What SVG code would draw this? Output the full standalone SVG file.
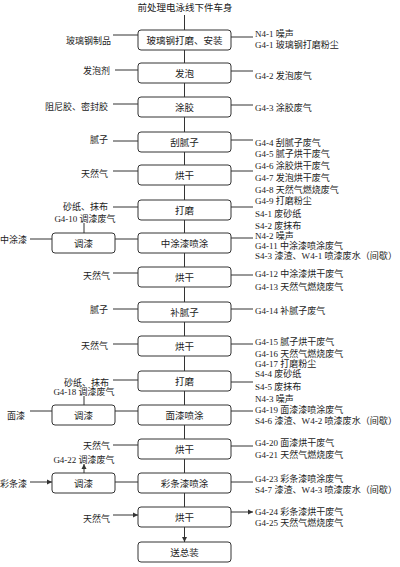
<svg xmlns="http://www.w3.org/2000/svg" width="400" height="567" viewBox="0 0 400 567">
<style>
text{font-family:"Liberation Serif","Noto Sans CJK SC",serif;fill:#222;font-size:9px}
.b{fill:#fff;stroke:#333;stroke-width:1}
.c{text-anchor:middle;font-size:9.5px}
.r{text-anchor:end}
.l{fill:none;stroke:#333;stroke-width:1;marker-end:url(#a)}
</style>
<defs><marker id="a" markerWidth="6" markerHeight="6" refX="5" refY="3" orient="auto" markerUnits="userSpaceOnUse"><path d="M0,0.5L5,3L0,5.5Z" fill="#333"/></marker></defs>
<rect width="400" height="567" fill="#fff"/>
<text x="185" y="11" class="c">前处理电泳线下件车身</text>
<g id="n1"><rect class="b" x="138" y="30" width="93" height="20" rx="3"/><text x="184.5" y="43.5" class="c">玻璃钢打磨、安装</text></g>
<g id="n2"><rect class="b" x="138" y="63" width="93" height="20" rx="3"/><text x="184.5" y="76.5" class="c">发泡</text></g>
<g id="n3"><rect class="b" x="138" y="97" width="93" height="20" rx="3"/><text x="184.5" y="110.5" class="c">涂胶</text></g>
<g id="n4"><rect class="b" x="138" y="132" width="93" height="20" rx="3"/><text x="184.5" y="145.5" class="c">刮腻子</text></g>
<g id="n5"><rect class="b" x="138" y="165" width="93" height="20" rx="3"/><text x="184.5" y="178.5" class="c">烘干</text></g>
<g id="n6"><rect class="b" x="138" y="200" width="93" height="20" rx="3"/><text x="184.5" y="213.5" class="c">打磨</text></g>
<g id="n7"><rect class="b" x="138" y="233" width="93" height="20" rx="3"/><text x="184.5" y="246.5" class="c">中涂漆喷涂</text></g>
<g id="n8"><rect class="b" x="138" y="267" width="93" height="20" rx="3"/><text x="184.5" y="280.5" class="c">烘干</text></g>
<g id="n9"><rect class="b" x="138" y="302" width="93" height="20" rx="3"/><text x="184.5" y="315.5" class="c">补腻子</text></g>
<g id="n10"><rect class="b" x="138" y="336" width="93" height="20" rx="3"/><text x="184.5" y="349.5" class="c">烘干</text></g>
<g id="n11"><rect class="b" x="138" y="371" width="93" height="20" rx="3"/><text x="184.5" y="384.5" class="c">打磨</text></g>
<g id="n12"><rect class="b" x="138" y="405" width="93" height="20" rx="3"/><text x="184.5" y="418.5" class="c">面漆喷涂</text></g>
<g id="n13"><rect class="b" x="138" y="439" width="93" height="20" rx="3"/><text x="184.5" y="452.5" class="c">烘干</text></g>
<g id="n14"><rect class="b" x="138" y="473" width="93" height="20" rx="3"/><text x="184.5" y="486.5" class="c">彩条漆喷涂</text></g>
<g id="n15"><rect class="b" x="138" y="507" width="93" height="20" rx="3"/><text x="184.5" y="520.5" class="c">烘干</text></g>
<g id="n16"><rect class="b" x="138" y="542" width="93" height="20" rx="3"/><text x="184.5" y="555.5" class="c">送总装</text></g>
<g id="t1"><rect class="b" x="52" y="233" width="63" height="20" rx="3"/><text x="83.5" y="246.5" class="c">调漆</text></g>
<g id="t2"><rect class="b" x="52" y="405" width="63" height="20" rx="3"/><text x="83.5" y="418.5" class="c">调漆</text></g>
<g id="t3"><rect class="b" x="52" y="473" width="63" height="20" rx="3"/><text x="83.5" y="486.5" class="c">调漆</text></g>
<g id="connectors">
<path class="l" d="M184.5,15V30M184.5,50V63M184.5,83V97M184.5,117V132M184.5,152V165M184.5,185V200M184.5,220V233M184.5,253V267M184.5,287V302M184.5,322V336M184.5,356V371M184.5,391V405M184.5,425V439M184.5,459V473M184.5,493V507M184.5,527V542"/>
<path class="l" d="M113,35H138M115,70H138M113,104H138M113,141H138M113,171H138M113,207H138M115,239H138M113,273H138M113,309H138M113,344H138M113,380H138M115,411H138M113,445H138M115,482H138M113,515H138"/>
<path class="l" d="M30,239H52M30,411H52M30,482H52"/>
<path class="l" d="M84,233V223M84,405V396M84,473V464"/>
<path class="l" d="M231,37H253M231,71H253M231,105H253M231,140H253M231,171H253M231,207H253M231,238H253M231,275H253M231,309H253M231,344H253M231,382H253M231,411H253M231,446H253M231,482H253M231,512H253"/>
</g>
<g id="inputs">
<text x="111" y="43.5" class="r">玻璃钢制品</text>
<text x="110" y="74" class="r">发泡剂</text>
<text x="108" y="110" class="r">阻尼胶、密封胶</text>
<text x="108" y="142.5" class="r">腻子</text>
<text x="108" y="176.5" class="r">天然气</text>
<text x="108" y="209.5" class="r">砂纸、抹布</text>
<text x="85" y="222" class="c" style="font-size:9px">G4-10 调漆废气</text>
<text x="0" y="242.5">中涂漆</text>
<text x="110" y="278.5" class="r">天然气</text>
<text x="108" y="312.5" class="r">腻子</text>
<text x="108" y="348.5" class="r">天然气</text>
<text x="109" y="385.5" class="r">砂纸、抹布</text>
<text x="84" y="394.5" class="c" style="font-size:9px">G4-18 调漆废气</text>
<text x="7" y="418.5">面漆</text>
<text x="110" y="448.5" class="r">天然气</text>
<text x="84" y="462.5" class="c" style="font-size:9px">G4-22 调漆废气</text>
<text x="0" y="486.5">彩条漆</text>
<text x="110" y="521.5" class="r">天然气</text>
</g>
<g id="outputs">
<text x="255" y="36.5">N4-1 噪声</text>
<text x="255" y="47.5">G4-1 玻璃钢打磨粉尘</text>
<text x="255" y="79">G4-2 发泡废气</text>
<text x="255" y="110.5">G4-3 涂胶废气</text>
<text x="255" y="145.5">G4-4 刮腻子废气</text>
<text x="255" y="157">G4-5 腻子烘干废气</text>
<text x="255" y="168.5">G4-6 涂胶烘干废气</text>
<text x="255" y="180.5">G4-7 发泡烘干废气</text>
<text x="255" y="192.5">G4-8 天然气燃烧废气</text>
<text x="255" y="203.5">G4-9 打磨粉尘</text>
<text x="255" y="216.5">S4-1 废砂纸</text>
<text x="255" y="228.5">S4-2 废抹布</text>
<text x="255" y="238.5">N4-2 噪声</text>
<text x="255" y="248.5">G4-11 中涂漆喷涂废气</text>
<text x="255" y="258.5" textLength="142" lengthAdjust="spacingAndGlyphs">S4-3 漆渣、W4-1 喷漆废水（间歇）</text>
<text x="255" y="276.5">G4-12 中涂漆烘干废气</text>
<text x="255" y="289.5">G4-13 天然气燃烧废气</text>
<text x="255" y="313.5">G4-14 补腻子废气</text>
<text x="255" y="344.5">G4-15 腻子烘干废气</text>
<text x="255" y="356.5">G4-16 天然气燃烧废气</text>
<text x="255" y="366.5">G4-17 打磨粉尘</text>
<text x="255" y="376.5">S4-4 废砂纸</text>
<text x="255" y="389.5">S4-5 废抹布</text>
<text x="255" y="401.5">N4-3 噪声</text>
<text x="255" y="412.5">G4-19 面漆漆喷涂废气</text>
<text x="255" y="423.5" textLength="142" lengthAdjust="spacingAndGlyphs">S4-6 漆渣、W4-2 喷漆废水（间歇）</text>
<text x="255" y="445.5">G4-20 面漆烘干废气</text>
<text x="255" y="457.5">G4-21 天然气燃烧废气</text>
<text x="255" y="481.5">G4-23 彩条漆喷涂废气</text>
<text x="255" y="492.5" textLength="142" lengthAdjust="spacingAndGlyphs">S4-7 漆渣、W4-3 喷漆废水（间歇）</text>
<text x="255" y="514.5">G4-24 彩条漆烘干废气</text>
<text x="255" y="525.5">G4-25 天然气燃烧废气</text>
</g>
</svg>
